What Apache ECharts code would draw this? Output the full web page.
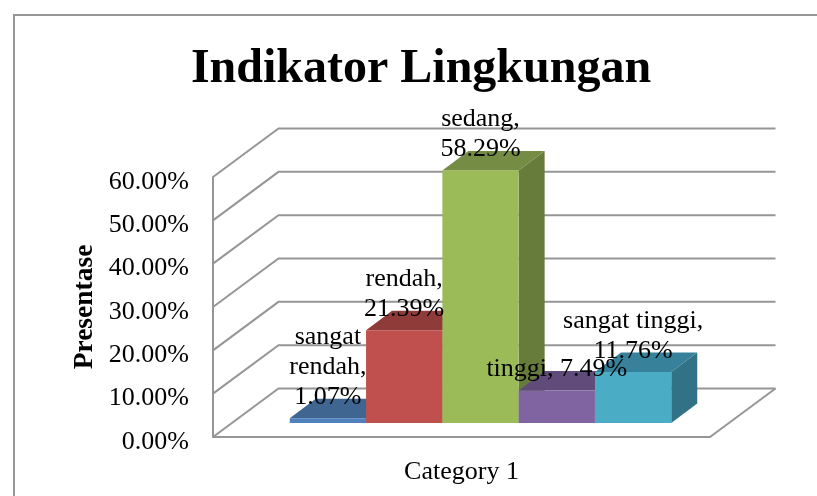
<!DOCTYPE html>
<html>
<head>
<meta charset="utf-8">
<title>Indikator Lingkungan</title>
<script src="https://cdn.jsdelivr.net/npm/echarts@6/dist/echarts.min.js"></script>
<style>
  html, body { margin: 0; padding: 0; background: #fff; }
  #chart { width: 817px; height: 496px; }
</style>
</head>
<body>
<div id="chart"></div>
<script>
const categories = ['Category 1']
const seriesNames = ['sangat rendah', 'rendah', 'sedang', 'tinggi', 'sangat tinggi']
const seriesValues = [1.07, 21.39, 58.29, 7.49, 11.76]
const yTicks = [0, 10, 20, 30, 40, 50, 60]

const labelLines = [
  'sangat\nrendah,\n1.07%',
  'rendah,\n21.39%',
  'sedang,\n58.29%',
  'tinggi, 7.49%',
  'sangat tinggi,\n11.76%'
]

const frontColors = ['#4f81bd', '#c0504d', '#9bbb59', '#8064a2', '#4bacc6']
const topColors = ['#3f6591', '#8f3b39', '#748c43', '#604b7a', '#38819a']
const sideColors = ['#365679', '#7a3230', '#677c3b', '#524168', '#327286']

const FONT = '"Liberation Serif", "Times New Roman", serif'
const WALL_DX = 65.5
const WALL_DY = -48.5
const BAR_DX = 26
const BAR_DY = -19.5
const BAR_SHIFT_X = 19
const BAR_SHIFT_Y = -14
const BAR_WIDTH = 76.3
const GREY = '#969696'

// back wall lines, one per tick, joined to the front wall by a slanted piece
const renderWall = (params, api) => {
  const cs = params.coordSys
  const y = api.coord([0, api.value(0)])[1]
  const children = [{
    type: 'polyline',
    shape: { points: [[cs.x, y], [cs.x + WALL_DX, y + WALL_DY], [cs.x + cs.width + WALL_DX, y + WALL_DY]] },
    style: { stroke: GREY, lineWidth: 2, fill: 'none' }
  }]
  if (api.value(0) === 0) {
    children.push({
      type: 'line',
      shape: { x1: cs.x + cs.width, y1: y, x2: cs.x + cs.width + WALL_DX, y2: y + WALL_DY },
      style: { stroke: GREY, lineWidth: 2 }
    })
  }
  return { type: 'group', children }
}

const barLeft = (params, index) => {
  const cs = params.coordSys
  const total = seriesNames.length * BAR_WIDTH
  return cs.x + cs.width / 2 + BAR_SHIFT_X - total / 2 + index * BAR_WIDTH
}

const renderBar = index => (params, api) => {
  const x0 = barLeft(params, index)
  const x1 = x0 + BAR_WIDTH
  const yBase = api.coord([0, 0])[1] + BAR_SHIFT_Y
  const yTop = api.coord([0, api.value(1)])[1] + BAR_SHIFT_Y
  return {
    type: 'group',
    children: [
      {
        type: 'polygon',
        shape: { points: [[x1, yTop], [x1 + BAR_DX, yTop + BAR_DY], [x1 + BAR_DX, yBase + BAR_DY], [x1, yBase]] },
        style: { fill: sideColors[index] }
      },
      {
        type: 'polygon',
        shape: { points: [[x0, yTop], [x0 + BAR_DX, yTop + BAR_DY], [x1 + BAR_DX, yTop + BAR_DY], [x1, yTop]] },
        style: { fill: topColors[index] }
      },
      {
        type: 'rect',
        shape: { x: x0, y: yTop, width: BAR_WIDTH, height: yBase - yTop },
        style: { fill: frontColors[index] }
      }
    ]
  }
}

const renderLabel = index => (params, api) => {
  const x0 = barLeft(params, index)
  const yTop = api.coord([0, api.value(1)])[1] + BAR_SHIFT_Y
  return {
    type: 'text',
    style: {
      x: x0 + BAR_WIDTH / 2,
      y: yTop - 6,
      text: labelLines[index],
      font: '26px ' + FONT,
      lineHeight: 30,
      fill: '#000',
      align: 'center',
      verticalAlign: 'bottom'
    }
  }
}

const chart = echarts.init(document.getElementById('chart'))
chart.setOption({
  animation: false,
  backgroundColor: '#fff',
  title: {
    text: 'Indikator Lingkungan',
    left: 416,
    top: 41,
    textAlign: 'center',
    textStyle: { fontFamily: FONT, fontSize: 48, fontWeight: 'bold', color: '#000' }
  },
  // the frame runs past the right and bottom edges of the picture
  graphic: [{
    type: 'rect',
    shape: { x: 14, y: 15, width: 820, height: 500 },
    style: { fill: 'none', stroke: GREY, lineWidth: 2 },
    silent: true
  }],
  grid: { left: 213, top: 177, width: 497, height: 260 },
  xAxis: {
    type: 'category',
    data: categories,
    axisLine: { show: true, lineStyle: { color: GREY, width: 2 } },
    axisTick: { show: false },
    axisLabel: { margin: 22, fontFamily: FONT, fontSize: 26, color: '#000' }
  },
  yAxis: {
    type: 'value',
    min: 0,
    max: 60,
    interval: 10,
    name: 'Presentase',
    nameLocation: 'middle',
    nameGap: 114,
    nameMoveOverlap: false,
    nameTextStyle: { fontFamily: FONT, fontSize: 27.5, fontWeight: 'bold', color: '#000' },
    axisLine: { show: true, lineStyle: { color: GREY, width: 2 } },
    axisTick: { show: false },
    splitLine: { show: false },
    axisLabel: {
      margin: 24,
      verticalAlign: 'top',
      padding: [-8, 0, 0, 0],
      fontFamily: FONT,
      fontSize: 26,
      color: '#000',
      formatter: v => v.toFixed(2) + '%'
    }
  },
  series: [
    {
      type: 'custom',
      name: 'wall',
      coordinateSystem: 'cartesian2d',
      renderItem: renderWall,
      encode: { y: 0 },
      data: yTicks.map(t => [t]),
      silent: true,
      z: 1
    },
    ...seriesNames.map((name, i) => ({
      type: 'custom',
      name,
      coordinateSystem: 'cartesian2d',
      renderItem: renderBar(i),
      encode: { x: 0, y: 1 },
      data: [[0, seriesValues[i]]],
      z: 2 + i
    })),
    ...seriesNames.map((name, i) => ({
      type: 'custom',
      name: name + ' label',
      coordinateSystem: 'cartesian2d',
      renderItem: renderLabel(i),
      encode: { x: 0, y: 1 },
      data: [[0, seriesValues[i]]],
      silent: true,
      z: 10
    }))
  ]
})

window.addEventListener('resize', () => chart.resize())
</script>
</body>
</html>
